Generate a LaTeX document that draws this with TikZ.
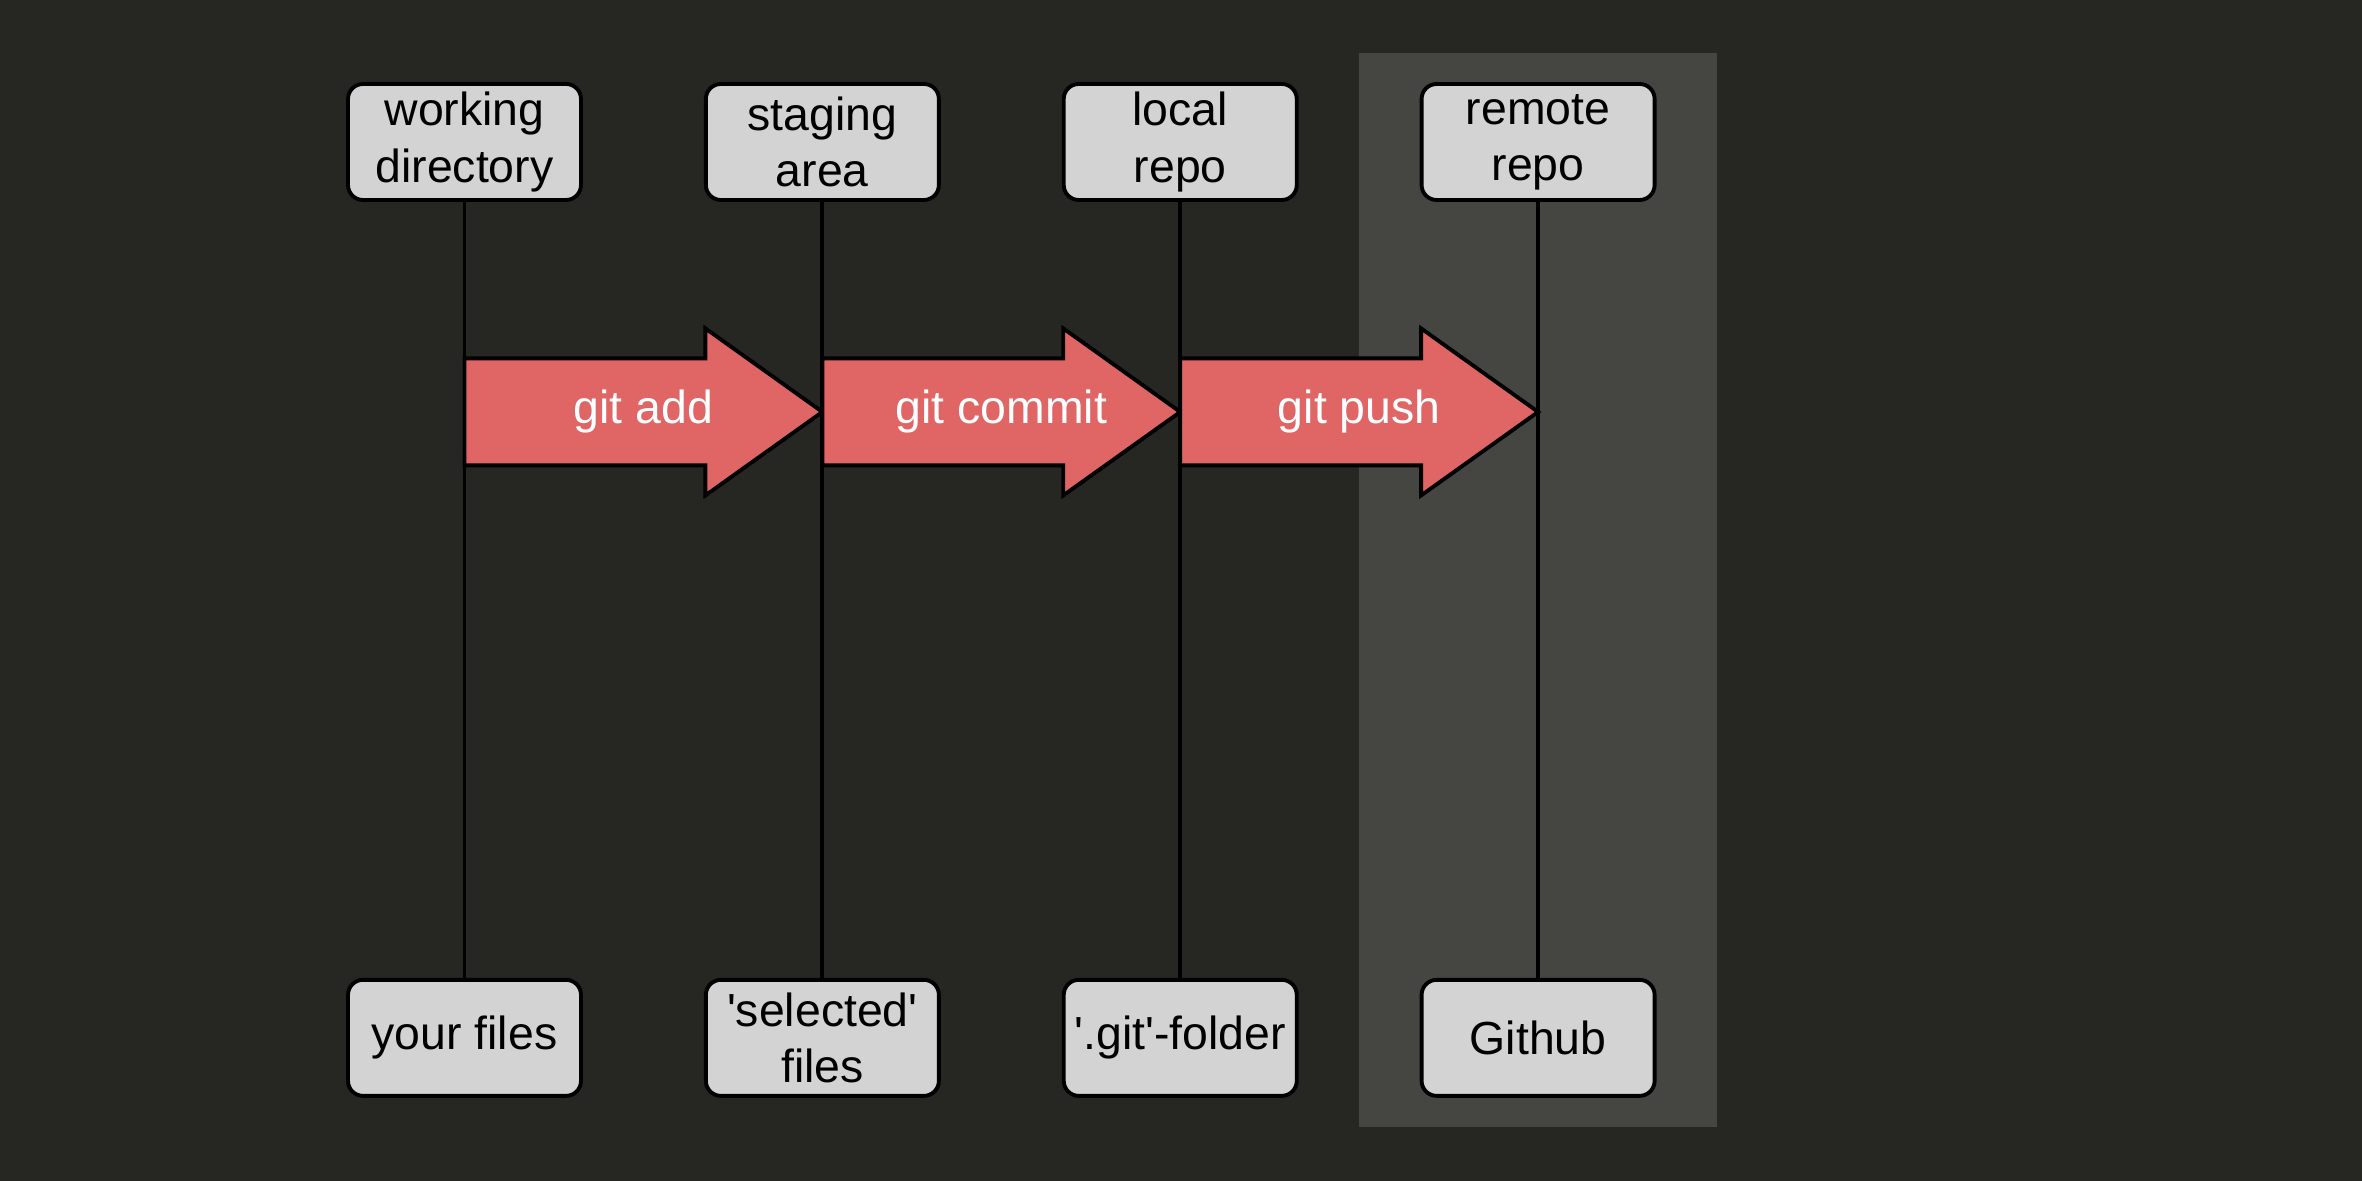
\documentclass[tikz,border=0pt]{standalone}
\usepackage{fontspec}
\setmainfont{Liberation Sans}
\usetikzlibrary{positioning,calc}

\definecolor{bgdark}{HTML}{262622}
\definecolor{remotegray}{HTML}{454541}
\definecolor{boxgray}{HTML}{D3D3D3}
\definecolor{arrowred}{HTML}{E06666}

\begin{document}
\begin{tikzpicture}[
    stage/.style={draw=black,line width=1.1pt,fill=boxgray,rounded corners=0.15cm,
        minimum width=2.33cm,minimum height=1.16cm,inner sep=1pt,align=center,
        font=\fontsize{13.2}{16}\selectfont},
    lifeline/.style={black,line width=1.1pt},
    gitstep/.style={draw=black,line width=1.1pt,fill=arrowred,line join=miter},
    steplabel/.style={white,font=\fontsize{13.2}{16}\selectfont}]

    \useasboundingbox[fill=bgdark] (0,0) rectangle (23.62,11.81);
    \fill[remotegray] (13.59,0.54) rectangle (17.17,11.28); % github

    % stages
    \node[stage] (wd) at (4.645,10.39) {working\\directory};
    \node[stage,right=1.21cm of wd] (sa) {staging\\area};
    \node[stage,right=1.21cm of sa] (lr) {local\\repo};
    \node[stage,right=1.21cm of lr] (rr) {remote\\repo};

    \node[stage,below=7.76cm of wd] (wdb) {your files};
    \node[stage,below=7.76cm of sa] (sab) {\textquotesingle selected\textquotesingle\\files};
    \node[stage,below=7.76cm of lr] (lrb) {\textquotesingle.git\textquotesingle-folder};
    \node[stage,below=7.76cm of rr] (rrb) {Github};

    \draw[lifeline] (wd) -- (wdb);
    \draw[lifeline] (sa) -- (sab);
    \draw[lifeline] (lr) -- (lrb);
    \draw[lifeline] (rr) -- (rrb);

    \coordinate (p1) at ([yshift=-2.10cm]wd.south);
    \coordinate (p2) at ([yshift=-2.10cm]sa.south);
    \coordinate (p3) at ([yshift=-2.10cm]lr.south);
    \coordinate (p4) at ([yshift=-2.10cm]rr.south);

    \draw[gitstep] ($(p1)+(0,0.535)$) -- ($(p2)+(-1.17,0.535)$) -- ($(p2)+(-1.17,0.835)$) -- (p2)
        -- ($(p2)+(-1.17,-0.835)$) -- ($(p2)+(-1.17,-0.535)$) -- ($(p1)+(0,-0.535)$) -- cycle;
    \node[steplabel] (add) at ($(p1)!0.5!(p2)$) {git add};

    \draw[gitstep] ($(p2)+(0,0.535)$) -- ($(p3)+(-1.17,0.535)$) -- ($(p3)+(-1.17,0.835)$) -- (p3)
        -- ($(p3)+(-1.17,-0.835)$) -- ($(p3)+(-1.17,-0.535)$) -- ($(p2)+(0,-0.535)$) -- cycle;
    \node[steplabel] (commit) at ($(p2)!0.5!(p3)$) {git commit};

    \draw[gitstep] ($(p3)+(0,0.535)$) -- ($(p4)+(-1.17,0.535)$) -- ($(p4)+(-1.17,0.835)$) -- (p4)
        -- ($(p4)+(-1.17,-0.835)$) -- ($(p4)+(-1.17,-0.535)$) -- ($(p3)+(0,-0.535)$) -- cycle;
    \node[steplabel] (push) at ($(p3)!0.5!(p4)$) {git push};

\end{tikzpicture}
\end{document}
